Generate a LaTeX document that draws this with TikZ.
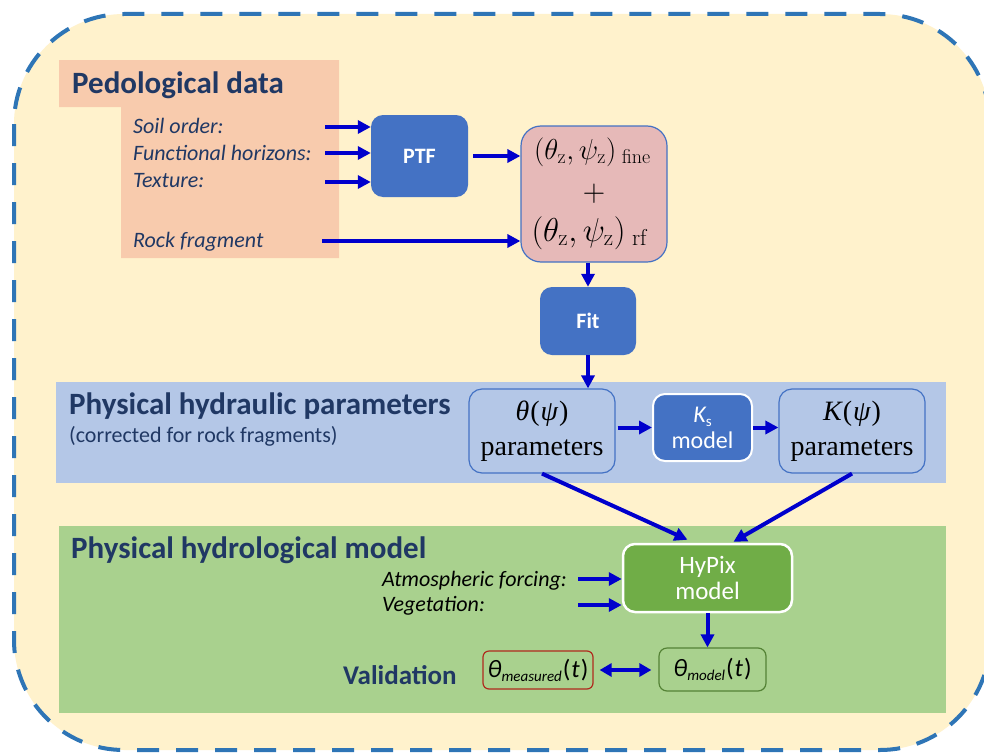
\documentclass[tikz,border=0pt]{standalone}
\usepackage[no-math]{fontspec}
\newfontfamily\carl{Carlito}
\newfontfamily\tnr{Liberation Serif}
\usetikzlibrary{arrows.meta,calc}
\definecolor{cream}{HTML}{FFF2CC}
\definecolor{dashblue}{HTML}{2E75B6}
\definecolor{salmon}{HTML}{F8CBAD}
\definecolor{navy}{HTML}{203864}
\definecolor{boxblue}{HTML}{4472C4}
\definecolor{pinkbox}{HTML}{E6B9B8}
\definecolor{hydband}{HTML}{B4C7E7}
\definecolor{greenband}{HTML}{A9D18E}
\definecolor{hygreen}{HTML}{70AD47}
\definecolor{arrblue}{HTML}{0000CC}
\definecolor{darkred}{HTML}{B02A1E}
\definecolor{dkgreen}{HTML}{548235}
\newcommand\myfs[2]{\fontsize{#1}{#2}\selectfont}
\begin{document}
\begin{tikzpicture}[x=1pt,y=-1pt,
  arr/.style={draw=arrblue,line width=4pt,-{Triangle[length=13pt,width=13pt]}},
  darr/.style={draw=arrblue,line width=4pt,{Triangle[length=12pt,width=13pt]}-{Triangle[length=12pt,width=13pt]}},
  sectitle/.style={anchor=base west,inner sep=0pt,text=navy,font=\carl\bfseries\myfs{31}{36}},
  pitem/.style={anchor=base west,inner sep=0pt,text=navy,font=\carl\itshape\myfs{22}{26}},
  gitem/.style={anchor=base west,inner sep=0pt,text=black,font=\carl\itshape\myfs{22}{26}},
  bluebox/.style={fill=boxblue,rounded corners=12pt,text=white,font=\carl\bfseries\myfs{22}{25},inner sep=0pt,align=center},
  parbox/.style={draw=boxblue,line width=1.2pt,rounded corners=13pt,minimum width=146pt,minimum height=84pt,inner sep=0pt,align=center,font=\tnr\myfs{28}{35}},
  mathtxt/.style={anchor=base,inner sep=0pt,font=\myfs{24}{28}}
]
\useasboundingbox (0,0) rectangle (984,752);
\clip (0,0) rectangle (984,752);
\fill[white] (0,0) rectangle (984,752);
% outer frame
\draw[fill=cream,draw=dashblue,line width=4pt,dash pattern=on 22pt off 17pt,rounded corners=110pt] (14,14) rectangle (990,750);
% pedological block
\fill[salmon] (59,60) -- (339,60) -- (339,258) -- (121,258) -- (121,107) -- (59,107) -- cycle;
\node[sectitle] (pedt) at (72,93) {Pedological data};
\node[pitem] (i1) at (133,133) {Soil order:};
\node[pitem] (i2) at (133,160) {Functional horizons:};
\node[pitem] (i3) at (133,187) {Texture:};
\node[pitem] (i4) at (133,247) {Rock fragment};
% bands
\fill[hydband] (56,382) rectangle (946,483);
\fill[greenband] (59,526) rectangle (946,713);
\node[sectitle] (hydt) at (69,414) {Physical hydraulic parameters};
\node[anchor=base west,inner sep=0pt,text=navy,font=\carl\myfs{22}{26}] (hyds) at (69,442) {(corrected for rock fragments)};
\node[sectitle] (modt) at (71,558) {Physical hydrological model};
% PTF and theta box
\node[bluebox,minimum width=97pt,minimum height=82pt] (ptf) at (419.5,156) {PTF};
\node[draw=boxblue,line width=1.2pt,fill=pinkbox,rounded corners=20pt,minimum width=146pt,minimum height=136pt] (th) at (594,194) {};
\node[mathtxt,scale=1.16] (thf) at (592.5,159) {$(\theta_{\mathrm z},\psi_{\mathrm z})_{\;\mathrm{fine}}$};
\node[mathtxt,scale=1.25] (thp) at (594,201) {$+$};
\node[mathtxt,scale=1.33] (thr) at (590,241) {$(\theta_{\mathrm z},\psi_{\mathrm z})_{\;\mathrm{rf}}$};
\node[bluebox,minimum width=96pt,minimum height=68pt] (fit) at (588,321) {Fit};
% hydraulic parameter boxes
\node[parbox] (thpar) at (542,431) {{\itshape θ}\kern1pt(\kern1pt{\itshape ψ}\kern1pt)\\parameters};
\node[bluebox,draw=white,line width=2pt,minimum width=99pt,minimum height=67pt,font=\carl\myfs{24}{26}] (ks) at (702.5,427.5) {{\itshape K}\raisebox{-4pt}{\myfs{15}{15}s}\\model};
\node[parbox] (kpar) at (852,431) {{\itshape K}\kern1pt(\kern1pt{\itshape ψ}\kern1pt)\\parameters};
% hydrological model
\node[draw=white,line width=2.5pt,fill=hygreen,rounded corners=12pt,minimum width=169pt,minimum height=68pt,text=white,font=\carl\myfs{25}{26},align=center,inner sep=0pt] (hypix) at (707.5,578) {HyPix\\model};
\node[gitem] (atm) at (382,586) {Atmospheric forcing:};
\node[gitem] (veg) at (382,611) {Vegetation:};
\node[anchor=base west,inner sep=0pt,text=navy,font=\carl\bfseries\myfs{27}{30}] (val) at (343,684) {Validation};
\node[draw=darkred,line width=1.2pt,rounded corners=6pt,minimum width=110pt,minimum height=38pt,inner sep=0pt,font=\carl\myfs{25}{28}] (meas) at (538,670) {{\itshape θ}\raisebox{-4pt}{\myfs{15}{15}\itshape measured}\kern1pt(\kern1pt{\itshape t}\kern1pt)};
\node[draw=dkgreen,line width=1.2pt,rounded corners=8pt,minimum width=107pt,minimum height=43pt,inner sep=0pt,font=\carl\myfs{25}{28}] (modl) at (712.5,669.5) {{\itshape θ}\raisebox{-4pt}{\myfs{15}{15}\itshape model}\kern1pt(\kern1pt{\itshape t}\kern1pt)};
% arrows
\coordinate (a1) at (325,127);
\coordinate (a2) at (325,153);
\coordinate (a3) at (325,182);
\coordinate (a4) at (322,241);
\draw[arr] (a1) -- (a1 -| ptf.west);
\draw[arr] (a2) -- (a2 -| ptf.west);
\draw[arr] (a3) -- (a3 -| ptf.west);
\draw[arr] (a4) -- (a4 -| th.west);
\draw[arr,shorten <=5pt] (ptf.east) -- (ptf.east -| th.west);
\draw[arr] (fit.north |- th.south) -- (fit.north);
\draw[arr] (fit.south) -- (fit.south |- thpar.north);
\draw[arr,shorten <=2pt] (thpar.east |- ks.west) -- (ks.west);
\draw[arr] (ks.east) -- (ks.east -| kpar.west);
\draw[arr] (thpar.south) -- ($(hypix.north)+(-20,-3)$);
\draw[arr] (kpar.south) -- ($(hypix.north)+(26,-1)$);
\coordinate (g1) at (578,579);
\coordinate (g2) at (578,605);
\draw[arr] (g1) -- (g1 -| hypix.west);
\draw[arr] (g2) -- (g2 -| hypix.west);
\draw[arr] (hypix.south) -- (hypix.south |- modl.north);
\draw[darr,shorten <=6pt,shorten >=7pt] (meas.east) -- (meas.east -| modl.west);
\end{tikzpicture}
\end{document}
